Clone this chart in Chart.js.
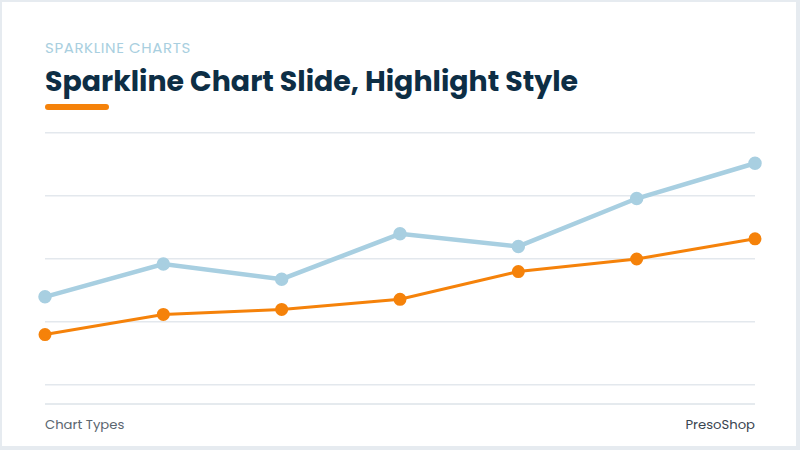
<!DOCTYPE html>
<html lang="en">
    <head>
        <meta charset="UTF-8" />
        <title>Sparkline Chart Slide, Highlight Style</title>
        <script src="https://cdn.jsdelivr.net/npm/chart.js"></script>
        <style>
            html, body { margin: 0; padding: 0; }
            body {
                width: 800px;
                height: 450px;
                background: #e6ebf0;
                font-family: "Poppins", "Inter", sans-serif;
                overflow: hidden;
            }
            .slide {
                position: absolute;
                left: 2px;
                top: 2px;
                width: 794px;
                height: 444px;
                background: #ffffff;
            }
            .kicker {
                position: absolute;
                left: 43px;
                top: 34px;
                font-size: 15px;
                letter-spacing: 0.6px;
                color: #a9cfe0;
                font-weight: 400;
            }
            .title {
                position: absolute;
                left: 43px;
                top: 58px;
                font-size: 28.4px;
                font-weight: 700;
                color: #0d2e45;
            }
            .bar {
                position: absolute;
                left: 43px;
                top: 102px;
                width: 64px;
                height: 6px;
                border-radius: 3px;
                background: #f5820a;
            }
            .chart-box {
                position: absolute;
                left: 33px;
                top: 121px;
                width: 730px;
                height: 272px;
            }
            .sep {
                position: absolute;
                left: 43px;
                top: 401px;
                width: 710px;
                height: 2px;
                background: #e5eaee;
            }
            .foot {
                position: absolute;
                top: 413px;
                font-size: 13.2px;
            }
            .foot.left { left: 43px; color: #5b6670; }
            .foot.right { right: 41px; color: #3a4550; }
        </style>
    </head>
    <body>
        <div class="slide">
            <div class="kicker">SPARKLINE CHARTS</div>
            <div class="title">Sparkline Chart Slide, Highlight Style</div>
            <div class="bar"></div>
            <div class="chart-box"><canvas id="spark"></canvas></div>
            <div class="sep"></div>
            <div class="foot left">Chart Types</div>
            <div class="foot right">PresoShop</div>
        </div>

        <script>
            const labels = ["P1", "P2", "P3", "P4", "P5", "P6", "P7"];
            const blueSeries = [35, 48, 42, 60, 55, 74, 88];
            const orangeSeries = [20, 28, 30, 34, 45, 50, 58];
            const yTicks = [0, 25, 50, 75, 100];

            const ctx = document.getElementById("spark").getContext("2d");
            new Chart(ctx, {
                type: "line",
                data: {
                    labels: labels,
                    datasets: [
                        {
                            label: "Highlight",
                            data: orangeSeries,
                            borderColor: "#f5820a",
                            backgroundColor: "#f5820a",
                            borderWidth: 3,
                            pointRadius: 5,
                            pointHoverRadius: 5,
                            tension: 0,
                        },
                        {
                            label: "Base",
                            data: blueSeries,
                            borderColor: "#a8cfe1",
                            backgroundColor: "#a8cfe1",
                            borderWidth: 4.5,
                            pointRadius: 4.5,
                            pointHoverRadius: 4.5,
                            tension: 0,
                        },
                    ],
                },
                options: {
                    responsive: true,
                    maintainAspectRatio: false,
                    animation: false,
                    layout: { padding: 10 },
                    plugins: {
                        legend: { display: false },
                        tooltip: { enabled: false },
                    },
                    scales: {
                        x: { display: false },
                        y: {
                            min: yTicks[0],
                            max: yTicks[yTicks.length - 1],
                            afterBuildTicks: (axis) => {
                                axis.ticks = yTicks.map((v) => ({ value: v }));
                            },
                            ticks: { display: false },
                            border: { display: false },
                            grid: {
                                color: "#e3e8ed",
                                lineWidth: 1.5,
                                drawTicks: false,
                            },
                        },
                    },
                },
            });
        </script>
    </body>
</html>
